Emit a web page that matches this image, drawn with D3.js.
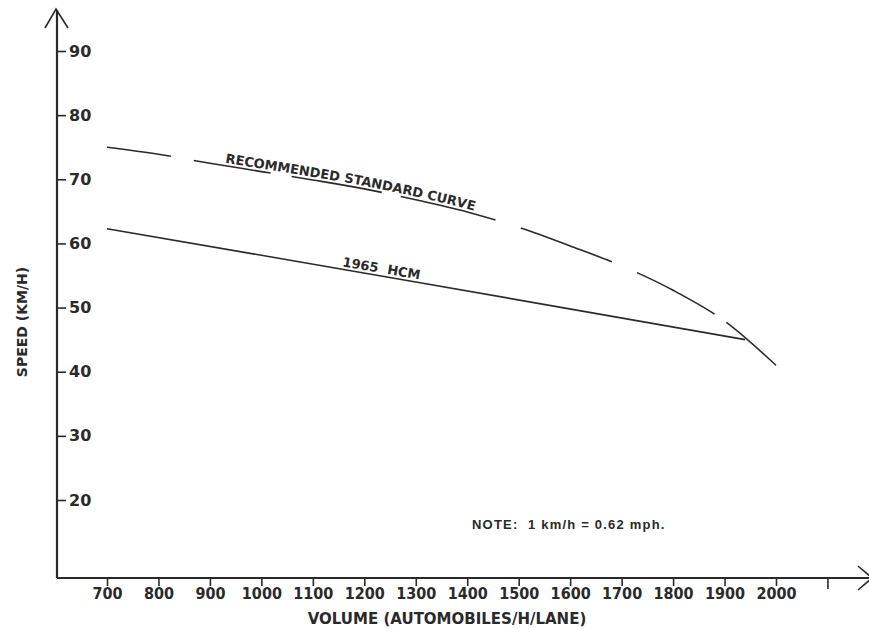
<!DOCTYPE html>
<html>
<head>
<meta charset="utf-8">
<script src="https://cdn.jsdelivr.net/npm/d3@7"></script>
<style>
  body { margin: 0; background: #fff; }
  svg { display: block; }
  .ytick text { font-family: "DejaVu Sans", sans-serif; font-weight: bold; font-size: 16px; fill: #2a2a2a; }
  .xtick text { font-family: "Liberation Sans Narrow", "DejaVu Sans Condensed", sans-serif; font-weight: bold; font-size: 16px; fill: #2a2a2a; }
  .axis-title { font-family: "DejaVu Sans", sans-serif; font-weight: bold; fill: #2a2a2a; }
  .curve-label { font-family: "DejaVu Sans", sans-serif; font-weight: bold; font-size: 13px; fill: #2a2a2a; white-space: pre; }
  .note { font-family: "Liberation Sans", Arial, sans-serif; font-weight: bold; font-size: 13px; letter-spacing: 1.2px; fill: #2a2a2a; white-space: pre; }
</style>
</head>
<body>
<div id="chart"></div>
<script>
// speed-volume curves (volume in automobiles/h/lane, speed in km/h)
const volumeTicks = [700, 800, 900, 1000, 1100, 1200, 1300, 1400, 1500, 1600, 1700, 1800, 1900, 2000, 2100];
const speedTicks = [20, 30, 40, 50, 60, 70, 80, 90];

const recommendedVolume = [700, 800, 900, 1000, 1100, 1200, 1300, 1400, 1500, 1600, 1700, 1800, 1900, 2000];
const recommendedSpeed = [75.0, 73.9, 72.5, 71.2, 69.9, 68.5, 66.8, 64.9, 62.5, 59.6, 56.5, 52.7, 47.9, 41.0];

const hcmVolume = [700, 1300, 1940];
const hcmSpeed = [62.3, 54.0, 45.0];

const recommendedLabel = "RECOMMENDED STANDARD CURVE";
const hcmLabel = "1965  HCM";
const noteText = "NOTE:  1 km/h = 0.62 mph.";

const width = 869;
const height = 629;
const axisX = 57;   // left axis position
const axisY = 578;  // bottom axis position
const ink = "#2a2a2a";

const x = d3.scaleLinear().domain([700, 2000]).range([107, 776]);
const y = d3.scaleLinear().domain([20, 90]).range([500, 51]);

const svg = d3.select("#chart")
    .append("svg")
    .attr("width", width)
    .attr("height", height);

// y axis (ticks point inward, labels right of the axis)
const yAxis = svg.append("g")
    .attr("class", "ytick")
    .attr("transform", `translate(${axisX}, 0)`)
    .call(d3.axisRight(y).tickValues(speedTicks).tickSize(9).tickPadding(3));
yAxis.select(".domain").remove();
yAxis.selectAll("line").attr("stroke", ink).attr("stroke-width", 1.6);

// x axis
const xAxis = svg.append("g")
    .attr("class", "xtick")
    .attr("transform", `translate(0, ${axisY})`)
    .call(d3.axisBottom(x)
        .tickValues(volumeTicks)
        .tickSize(8)
        .tickPadding(2)
        .tickFormat(d => d > 2000 ? "" : d));
xAxis.select(".domain").remove();
xAxis.selectAll("line").attr("stroke", ink).attr("stroke-width", 1.6);
xAxis.selectAll(".tick").filter(d => d > 2000).select("line").attr("y2", 11);

// axis lines with open arrow heads
svg.append("line")
    .attr("x1", axisX).attr("y1", 10)
    .attr("x2", axisX).attr("y2", axisY)
    .attr("stroke", ink).attr("stroke-width", 2.2);
svg.append("line")
    .attr("x1", axisX).attr("y1", axisY)
    .attr("x2", 870).attr("y2", axisY)
    .attr("stroke", ink).attr("stroke-width", 2);

svg.append("path")
    .attr("d", `M${axisX - 12},28 L${axisX - 1},9 L${axisX + 11},28`)
    .attr("fill", "none").attr("stroke", ink).attr("stroke-width", 1.6);
svg.append("path")
    .attr("d", `M858,566 L872,${axisY} L858,590`)
    .attr("fill", "none").attr("stroke", ink).attr("stroke-width", 1.6);

// axis titles
svg.append("text")
    .attr("class", "axis-title")
    .attr("transform", "translate(27, 322) rotate(-90)")
    .attr("text-anchor", "middle")
    .style("font-size", "14px")
    .text("SPEED (KM/H)");

svg.append("text")
    .attr("class", "axis-title")
    .attr("x", 447)
    .attr("y", 624)
    .attr("text-anchor", "middle")
    .style("font-size", "15px")
    .text("VOLUME (AUTOMOBILES/H/LANE)");

// curves
const line = d3.line()
    .x(d => x(d[0]))
    .y(d => y(d[1]))
    .curve(d3.curveMonotoneX);

const recommended = recommendedVolume.map((v, i) => [v, recommendedSpeed[i]]);
const hcm = hcmVolume.map((v, i) => [v, hcmSpeed[i]]);

svg.append("path")
    .attr("id", "recommendedPath")
    .datum(recommended)
    .attr("d", line)
    .attr("fill", "none")
    .attr("stroke", ink)
    .attr("stroke-width", 1.6)
    .attr("stroke-dasharray", "64.5 23.3 77.9 21.2 91.6 19.4 97.7 26.6 97.1 27.3 88.1 14.4 80");

svg.append("path")
    .attr("id", "hcmPath")
    .datum(hcm)
    .attr("d", d3.line().x(d => x(d[0])).y(d => y(d[1])))
    .attr("fill", "none")
    .attr("stroke", ink)
    .attr("stroke-width", 1.6);

// labels written along the curves
svg.append("text")
    .attr("class", "curve-label")
    .attr("dy", -3)
    .append("textPath")
    .attr("href", "#recommendedPath")
    .attr("startOffset", 119)
    .text(recommendedLabel);

svg.append("text")
    .attr("class", "curve-label")
    .attr("dy", -3)
    .append("textPath")
    .attr("href", "#hcmPath")
    .attr("startOffset", 238)
    .text(hcmLabel);

// note
svg.append("text")
    .attr("class", "note")
    .attr("x", 472)
    .attr("y", 529)
    .text(noteText);
</script>
</body>
</html>
